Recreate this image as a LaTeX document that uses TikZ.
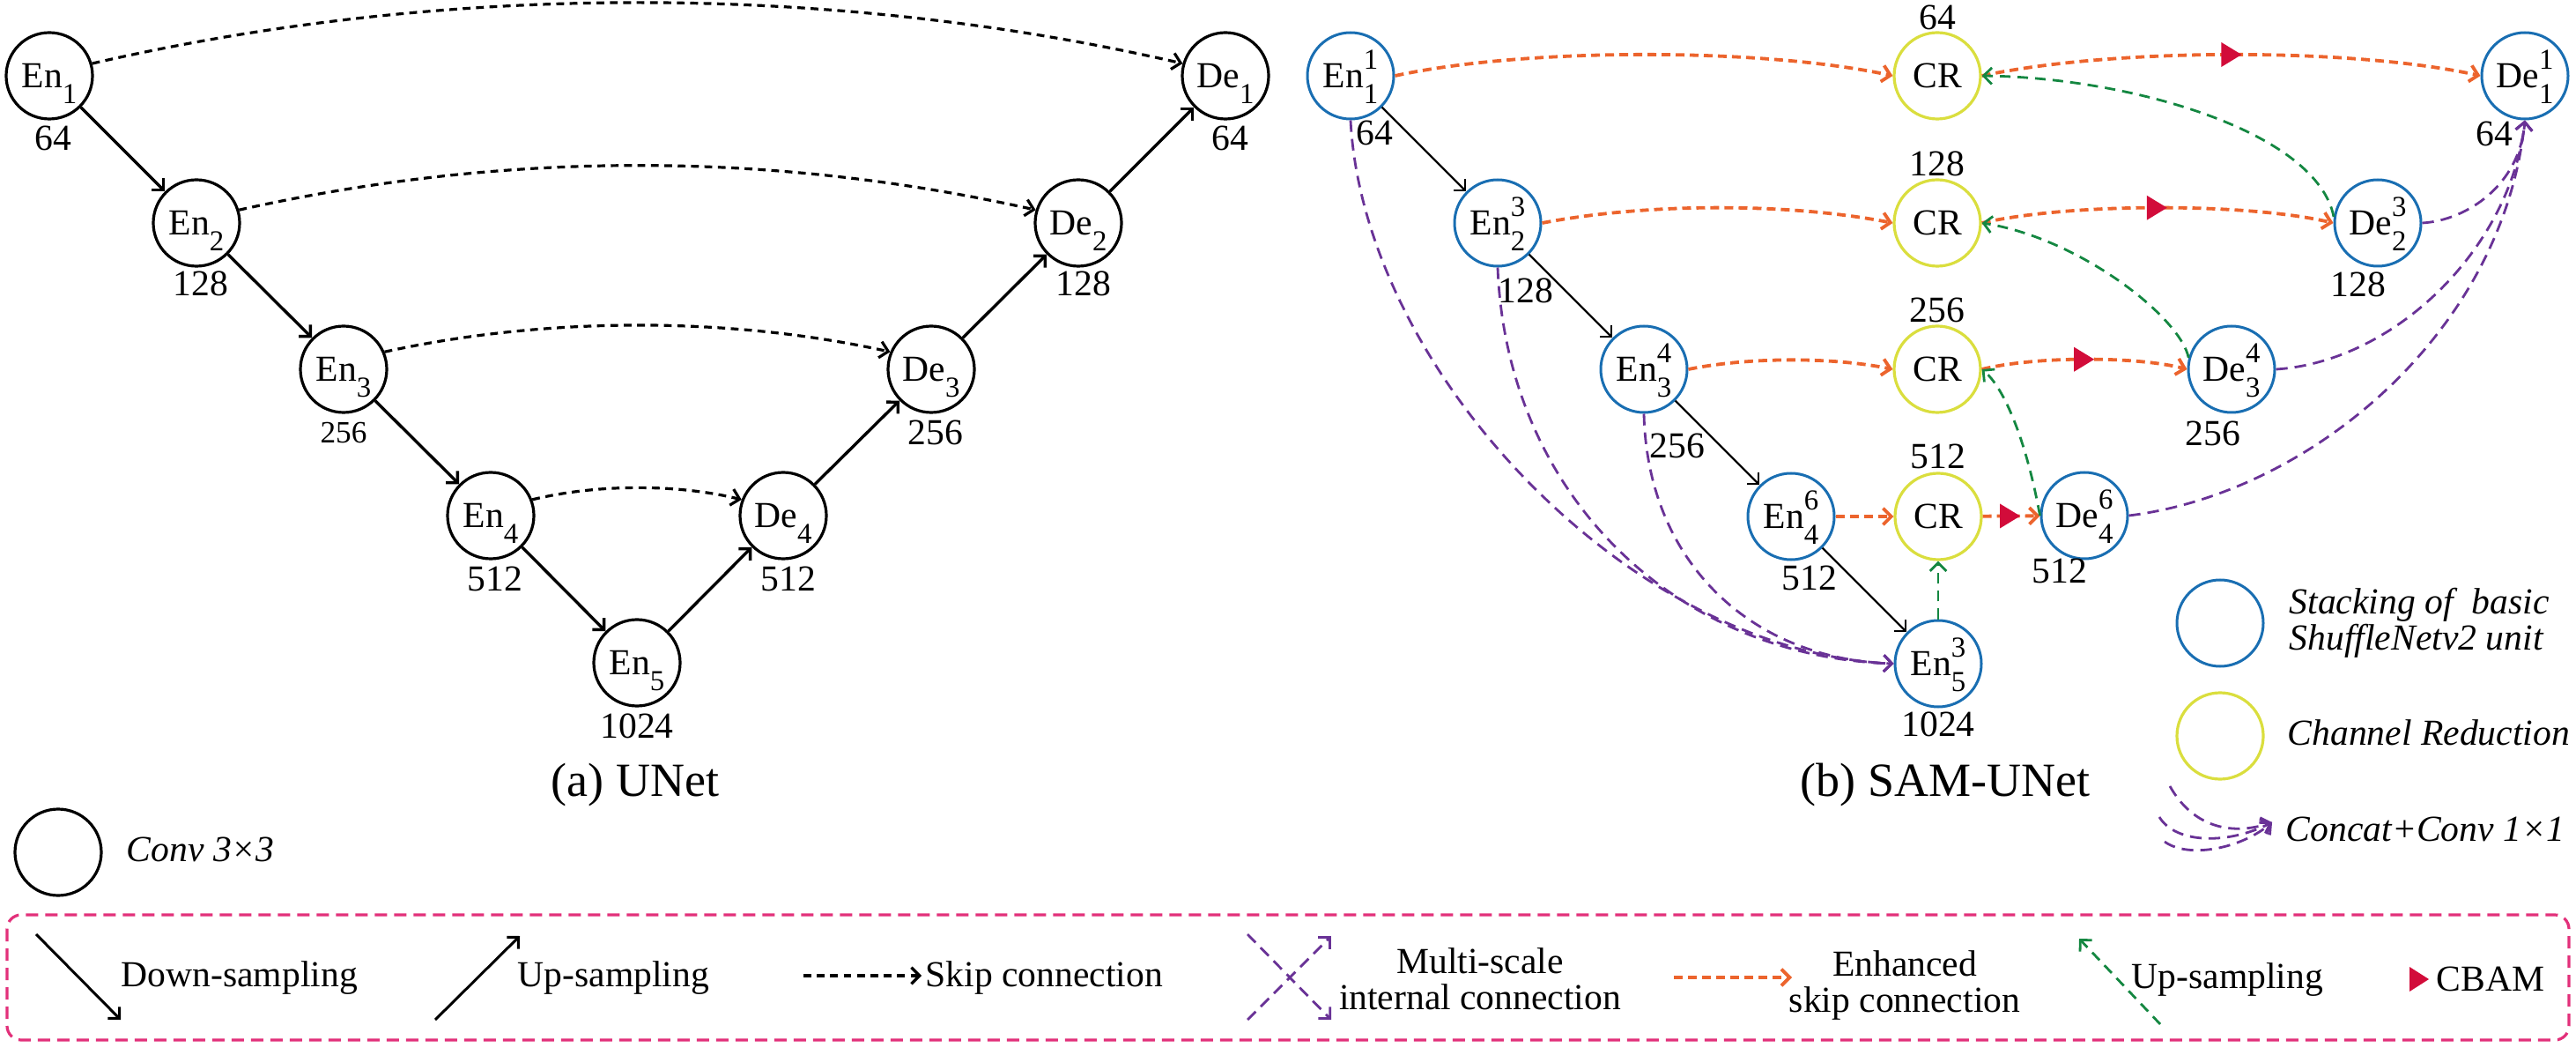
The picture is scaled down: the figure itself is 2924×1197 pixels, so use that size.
\documentclass[tikz,border=0pt]{standalone}
\usepackage{fontspec}
\setmainfont{Liberation Serif}
\usetikzlibrary{arrows.meta}
\definecolor{cblue}{RGB}{25,110,178}
\definecolor{cyel}{RGB}{218,222,62}
\definecolor{corange}{RGB}{236,100,45}
\definecolor{cgreen}{RGB}{20,135,65}
\definecolor{cpurple}{RGB}{105,50,150}
\definecolor{cred}{RGB}{210,12,58}
\definecolor{cpink}{RGB}{226,48,122}
\newcommand\ssub[1]{\smash{\raisebox{-0.43em}{\fontsize{8.2}{9}\selectfont #1}}}
\newcommand\ssubsup[2]{\smash{\rlap{\raisebox{0.5em}{\fontsize{8.2}{9}\selectfont #2}}\raisebox{-0.43em}{\fontsize{8.2}{9}\selectfont #1}}}
\begin{document}
\begin{tikzpicture}[x=0.25pt,y=-0.25pt,
  >={Straight Barb[angle=90:3.3pt]},
  every node/.style={font=\fontsize{10.4}{12}\selectfont, inner sep=0pt},
  unetNode/.style={circle, draw=black, line width=0.8pt, minimum size=24.5pt, inner sep=0pt},
  samNode/.style={circle, draw=cblue, line width=0.75pt, minimum size=24.5pt, inner sep=0pt},
  crNode/.style={circle, draw=cyel, line width=0.8pt, minimum size=24.5pt, inner sep=0pt},
  arrDown/.style={->, line width=0.85pt},
  arrSam/.style={->, line width=0.6pt},
  skipLine/.style={->, line width=0.8pt, dash pattern=on 2.2pt off 1.6pt},
  enhLine/.style={->, draw=corange, line width=0.95pt, dash pattern=on 2.5pt off 1.5pt},
  upLine/.style={->, draw=cgreen, line width=0.7pt, dash pattern=on 3pt off 2pt},
  msLine/.style={->, draw=cpurple, line width=0.7pt, dash pattern=on 3.3pt off 2pt},
  itText/.style={font=\fontsize{10.4}{10.2}\selectfont\itshape},
  twoLine/.style={align=center, font=\fontsize{10.4}{10.3}\selectfont},
  capText/.style={font=\fontsize{13.5}{15}\selectfont},
  smallNum/.style={font=\fontsize{8.8}{10}\selectfont}
]
\path[use as bounding box] (0,0) rectangle (2924,1197);

% ---------------- (a) UNet ----------------
\node[unetNode] (u1) at (56,86) {En\ssub{1}};
\node[unetNode] (u2) at (223,253) {En\ssub{2}};
\node[unetNode] (u3) at (390,419) {En\ssub{3}};
\node[unetNode] (u4) at (557,585) {En\ssub{4}};
\node[unetNode] (u5) at (723,752) {En\ssub{5}};
\node[unetNode] (v4) at (889,585) {De\ssub{4}};
\node[unetNode] (v3) at (1057,419) {De\ssub{3}};
\node[unetNode] (v2) at (1224,253) {De\ssub{2}};
\node[unetNode] (v1) at (1391,86) {De\ssub{1}};

\node (lu1) at (60,157) {64};
\node (lu2) at (228,322) {128};
\node[smallNum] (lu3) at (390,491) {256};
\node (lu4) at (562,657) {512};
\node (lu5) at (723,824) {1024};
\node (lv4) at (895,657) {512};
\node (lv3) at (1062,491) {256};
\node (lv2) at (1230,322) {128};
\node (lv1) at (1396,157) {64};

\draw[arrDown] (u1) -- (u2);
\draw[arrDown] (u2) -- (u3);
\draw[arrDown] (u3) -- (u4);
\draw[arrDown] (u4) -- (u5);
\draw[arrDown] (u5) -- (v4);
\draw[arrDown] (v4) -- (v3);
\draw[arrDown] (v3) -- (v2);
\draw[arrDown] (v2) -- (v1);

\draw[skipLine] (u1.16) .. controls (505,-20) and (942,-20) .. (v1.164);
\draw[skipLine] (u2.17) .. controls (573,171) and (874,171) .. (v2.163);
\draw[skipLine] (u3.23) .. controls (620,359) and (828,359) .. (v3.157);
\draw[skipLine] (u4.21) .. controls (677,549) and (769,549) .. (v4.159);

\node[capText] (capa) at (721,891) {(a) UNet};

% ---------------- (b) SAM-UNet ----------------
\node[samNode] (e1) at (1533,86) {En\ssubsup{1}{1}};
\node[samNode] (e2) at (1700,253) {En\ssubsup{2}{3}};
\node[samNode] (e3) at (1866,419) {En\ssubsup{3}{4}};
\node[samNode] (e4) at (2033,586) {En\ssubsup{4}{6}};
\node[samNode] (e5) at (2200,753) {En\ssubsup{5}{3}};
\node[crNode] (c1) at (2199,86) {CR};
\node[crNode] (c2) at (2199,253) {CR};
\node[crNode] (c3) at (2199,419) {CR};
\node[crNode] (c4) at (2200,586) {CR};
\node[samNode] (d1) at (2866,86) {De\ssubsup{1}{1}};
\node[samNode] (d2) at (2699,253) {De\ssubsup{2}{3}};
\node[samNode] (d3) at (2533,419) {De\ssubsup{3}{4}};
\node[samNode] (d4) at (2366,585) {De\ssubsup{4}{6}};

\node (le1) at (1560,151) {64};
\node (le2) at (1732,330) {128};
\node (le3) at (1904,506) {256};
\node (le4) at (2054,656) {512};
\node (le5) at (2200,822) {1024};
\node (lc1) at (2199,20) {64};
\node (lc2) at (2199,186) {128};
\node (lc3) at (2199,352) {256};
\node (lc4) at (2200,518) {512};
\node (ld1) at (2831,152) {64};
\node (ld2) at (2677,323) {128};
\node (ld3) at (2512,492) {256};
\node (ld4) at (2338,648) {512};

% down-sampling
\draw[arrSam] (e1) -- (e2);
\draw[arrSam] (e2) -- (e3);
\draw[arrSam] (e3) -- (e4);
\draw[arrSam] (e4) -- (e5);

% multi-scale internal connections
\draw[msLine] (e1.south) .. controls (1548,420) and (1850,740) .. (e5.west);
\draw[msLine] (e2.south) .. controls (1710,560) and (1900,745) .. (e5.west);
\draw[msLine] (e3.south) .. controls (1870,640) and (1990,748) .. (e5.west);
\draw[msLine] (d2.east) .. controls (2800,250) and (2860,210) .. (d1.south);
\draw[msLine] (d3.east) .. controls (2720,410) and (2850,280) .. (d1.south);
\draw[msLine] (d4.east) .. controls (2620,560) and (2840,380) .. (d1.south);

% enhanced skip connections
\draw[enhLine] (e1.east) .. controls (1730,54) and (2000,54) .. (c1.west);
\draw[enhLine] (e2.east) .. controls (1870,230) and (2030,230) .. (c2.west);
\draw[enhLine] (e3.east) .. controls (1985,405) and (2080,405) .. (c3.west);
\draw[enhLine] (e4) -- (c4);
\draw[enhLine] (c1.east) .. controls (2400,54) and (2670,54) .. (d1.west) coordinate[pos=0.5] (t1);
\draw[enhLine] (c2.east) .. controls (2350,230) and (2550,230) .. (d2.west) coordinate[pos=0.5] (t2);
\draw[enhLine] (c3.east) .. controls (2310,404) and (2425,404) .. (d3.west) coordinate[pos=0.5] (t3);
\draw[enhLine] (c4) -- (d4) coordinate[pos=0.5] (t4);

% CBAM
\foreach \t in {t1,t2,t3,t4}{
  \fill[cred, shift={(\t)}] (-13,-14) -- (10,0) -- (-13,14) -- cycle;
}

% up-sampling (green)
\draw[upLine] (d2.172) .. controls (2630,150) and (2420,88) .. (c1.east);
\draw[upLine] (d3.165) .. controls (2475,360) and (2360,270) .. (c2.east);
\draw[upLine] (d4.west) .. controls (2300,500) and (2275,440) .. (c3.east);
\draw[upLine] (e5) -- (c4);

\node[capText] (capb) at (2208,891) {(b) SAM-UNet};

% ---------------- legends ----------------
\node[unetNode] (lgc) at (66,967) {};
\node[itText, anchor=west] (lgct) at (143,964) {Conv 3×3};

\node[samNode] (lgb) at (2520,707) {};
\node[itText, anchor=west, align=left] (lgbt) at (2598,707) {Stacking of~ basic\\ShuffleNetv2 unit};
\node[crNode] (lgy) at (2520,835) {};
\node[itText, anchor=west] (lgyt) at (2596,831) {Channel Reduction};

\coordinate (ctip) at (2579,933);
\coordinate (ca1) at (2463,892);
\coordinate (ca2) at (2451,927);
\coordinate (ca3) at (2457,955);
\draw[msLine] (ca1) .. controls (2490,940) and (2535,948) .. (ctip);
\draw[msLine] (ca2) .. controls (2470,958) and (2530,958) .. (ctip);
\draw[msLine] (ca3) .. controls (2485,975) and (2545,962) .. (ctip);
\node[itText, anchor=west] (lgmt) at (2594,941) {Concat+Conv 1×1};

% bottom legend box
\draw[cpink, line width=0.8pt, dash pattern=on 3.5pt off 2pt, rounded corners=4pt] (8,1038) rectangle (2916,1180);

\coordinate (ld0a) at (41,1060);
\coordinate (ld0b) at (137,1157);
\draw[->, line width=0.75pt] (ld0a) -- (ld0b);
\node[anchor=west] (tdown) at (137,1110) {Down-sampling};

\coordinate (lu0a) at (494,1157);
\coordinate (lu0b) at (590,1062);
\draw[->, line width=0.75pt] (lu0a) -- (lu0b);
\node[anchor=west] (tup) at (587,1110) {Up-sampling};

\coordinate (ls0a) at (912,1107);
\coordinate (ls0b) at (1046,1107);
\draw[skipLine] (ls0a) -- (ls0b);
\node[anchor=west] (tskip) at (1050,1109) {Skip connection};

\coordinate (lm1a) at (1416,1060);
\coordinate (lm1b) at (1511,1157);
\coordinate (lm2a) at (1416,1157);
\coordinate (lm2b) at (1511,1062);
\draw[msLine] (lm1a) -- (lm1b);
\draw[msLine] (lm2a) -- (lm2b);
\node[twoLine] (tms) at (1680,1111) {Multi-scale\\internal connection};

\coordinate (le0a) at (1900,1109);
\coordinate (le0b) at (2034,1109);
\draw[enhLine] (le0a) -- (le0b);
\node[twoLine] (tenh) at (2162,1118) {Enhanced\\skip connection};

\coordinate (lg0a) at (2452,1162);
\coordinate (lg0b) at (2360,1065);
\draw[upLine] (lg0a) -- (lg0b);
\node[anchor=west] (tup2) at (2419,1112) {Up-sampling};

\fill[cred] (2735,1097) -- (2757,1111) -- (2735,1125) -- cycle;
\node[anchor=west] (tcbam) at (2765,1111) {CBAM};
\end{tikzpicture}
\end{document}
